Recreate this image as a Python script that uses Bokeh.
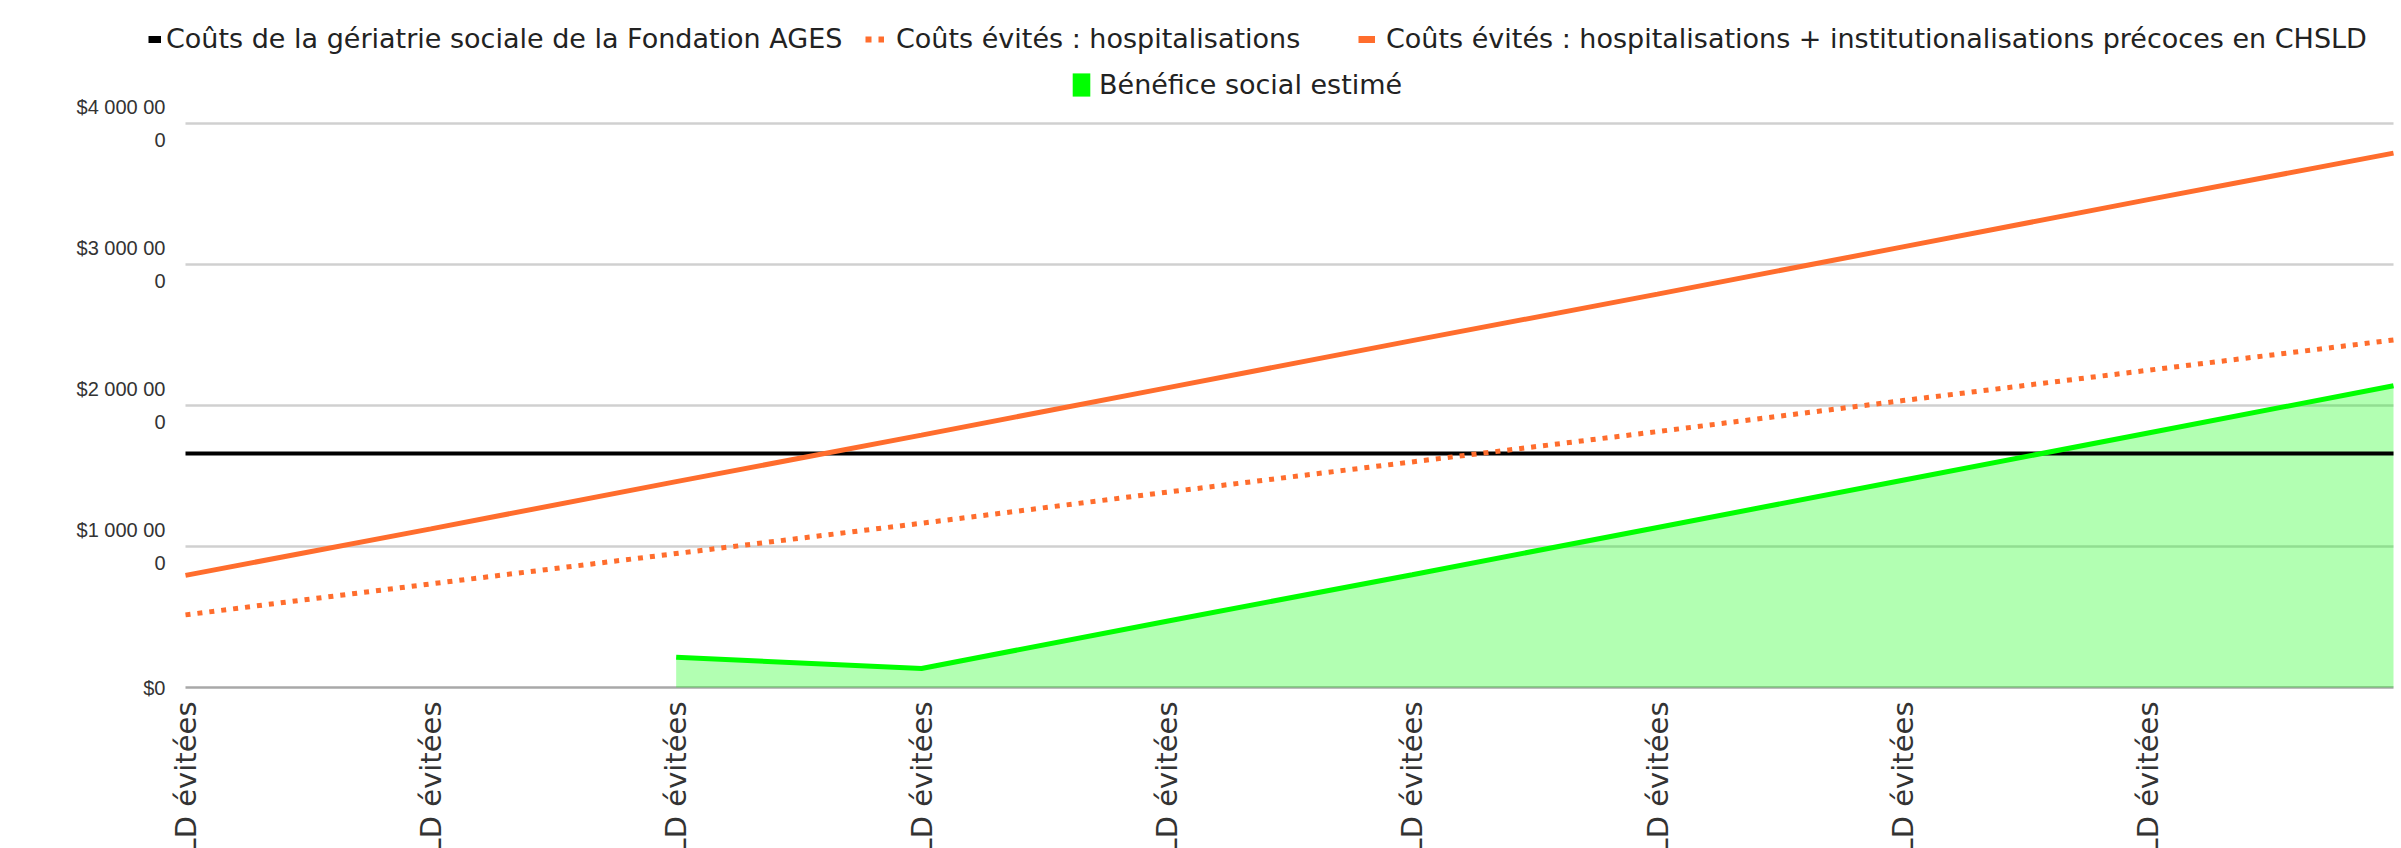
import math
from bokeh.plotting import figure
from bokeh.models import (ColumnDataSource, Range1d, FixedTicker, Legend, LegendItem,
                          LabelSet)
from bokeh.core.properties import value
from bokeh.embed import file_html
from bokeh.resources import INLINE

# ---------------- data ----------------
categories = [
    "1 hospitalisation et institutionnalisation en CHSLD évitées",
    "2 hospitalisations et institutionnalisations en CHSLD évitées",
    "3 hospitalisations et institutionnalisations en CHSLD évitées",
    "4 hospitalisations et institutionnalisations en CHSLD évitées",
    "5 hospitalisations et institutionnalisations en CHSLD évitées",
    "6 hospitalisations et institutionnalisations en CHSLD évitées",
    "7 hospitalisations et institutionnalisations en CHSLD évitées",
    "8 hospitalisations et institutionnalisations en CHSLD évitées",
    "9 hospitalisations et institutionnalisations en CHSLD évitées",
    "10 hospitalisations et institutionnalisations en CHSLD évitées",
]
couts_ages = [1660000, 1660000, 1660000, 1660000, 1660000,
              1660000, 1660000, 1660000, 1660000, 1660000]
evites_hosp = [515000, 735000, 950000, 1165000, 1385000,
               1600000, 1815000, 2035000, 2250000, 2465000]
evites_total = [795000, 1125000, 1460000, 1790000, 2125000,
                2460000, 2790000, 3125000, 3460000, 3790000]
benefice = [None, None, 215000, 135000, 470000,
            800000, 1135000, 1470000, 1805000, 2140000]
y_ticks = [0, 1000000, 2000000, 3000000, 4000000]
y_tick_labels = ["$0", "$1 000 00\n0", "$2 000 00\n0", "$3 000 00\n0", "$4 000 00\n0"]
series_names = [
    "Coûts de la gériatrie sociale de la Fondation AGES",
    "Coûts évités : hospitalisations",
    "Coûts évités : hospitalisations + institutionalisations précoces en CHSLD",
    "Bénéfice social estimé",
]

# ---------------- style / layout ----------------
FONT = "Liberation Sans"
WIDE_FONT = "DejaVu Sans"
ORANGE = "#ff6d2d"
GREEN = "#00ff00"
W, H = 2401, 848
FRAME_LEFT = 140     # frame starts here (legend swatch lies left of the data)
DATA_LEFT = 185      # pixel of the first category
DATA_RIGHT = 2393    # pixel of the last category
TOP_PX = 123         # pixel row of the top tick value
ZERO_PX = 687        # pixel row of the zero value
NAN = float("nan")

xs = list(range(len(categories)))
src = ColumnDataSource(dict(x=xs, ages=couts_ages, hosp=evites_hosp, total=evites_total))
ben_x = [x for x, b in zip(xs, benefice) if b is not None]
ben_y = [b for b in benefice if b is not None]
ben_src = ColumnDataSource(dict(x=ben_x, y=ben_y, z=[0] * len(ben_x)))

x_per_px = (xs[-1] - xs[0]) / (DATA_RIGHT - DATA_LEFT)
x_start = xs[0] - (DATA_LEFT - FRAME_LEFT) * x_per_px
x_end = xs[-1] + (W - DATA_RIGHT) * x_per_px
y_per_px = (y_ticks[-1] - y_ticks[0]) / (ZERO_PX - TOP_PX)
y_start = y_ticks[0] - (H - ZERO_PX) * y_per_px
y_end = y_ticks[-1] + TOP_PX * y_per_px

p = figure(width=W, height=H, output_backend="svg", toolbar_location=None,
           x_range=Range1d(x_start, x_end), y_range=Range1d(y_start, y_end),
           min_border_left=FRAME_LEFT, min_border_right=0, min_border_top=0,
           min_border_bottom=0)
p.outline_line_color = None
p.background_fill_color = "white"
p.border_fill_color = "white"

# axes
p.xaxis.visible = False
p.xgrid.visible = False
p.ygrid.visible = False
p.yaxis.ticker = FixedTicker(ticks=y_ticks)
p.yaxis.major_label_overrides = dict(zip(y_ticks, y_tick_labels))
p.yaxis.axis_line_color = None
p.yaxis.major_tick_line_color = None
p.yaxis.minor_tick_line_color = None
p.yaxis.major_tick_out = 0
p.yaxis.major_label_standoff = FRAME_LEFT - 165
p.yaxis.major_label_text_font = FONT
p.yaxis.major_label_text_font_size = "20px"
p.yaxis.major_label_text_color = "#333333"
p.yaxis.major_label_text_line_height = 1.5

# horizontal gridlines spanning the categories only
n_grid = len(y_ticks) - 1
p.segment(x0=[xs[0]] * n_grid, x1=[xs[-1]] * n_grid, y0=y_ticks[1:], y1=y_ticks[1:],
          line_color="#d0d0d0", line_width=2.5)
p.segment(x0=[xs[0]], x1=[xs[-1]], y0=y_ticks[:1], y1=y_ticks[:1],
          line_color="#a8a8a8", line_width=2.5)

# series
p.varea(x="x", y1="z", y2="y", source=ben_src, fill_color=GREEN, fill_alpha=0.3)
p.line("x", "ages", source=src, line_color="black", line_width=4)
p.line("x", "hosp", source=src, line_color=ORANGE, line_width=5, line_dash="5 7")
p.line("x", "total", source=src, line_color=ORANGE, line_width=5)
p.line("x", "y", source=ben_src, line_color=GREEN, line_width=5)

# legend swatches (renderers without visible data, used only for the legend look)
dummy = ColumnDataSource(dict(x=[NAN], y=[NAN], z=[NAN]))
lg_black = p.line("x", "y", source=dummy, line_color="black", line_width=7)
lg_dot = p.line("x", "y", source=dummy, line_color=ORANGE, line_width=6, line_dash="6 7")
lg_sol = p.line("x", "y", source=dummy, line_color=ORANGE, line_width=7)
lg_ben = p.varea(x="x", y1="z", y2="y", source=dummy, fill_color=GREEN)

def add_legend(label, rend, loc, gw, gh, standoff):
    leg = Legend(items=[LegendItem(label=label, renderers=[rend])], location=loc,
                 orientation="horizontal", glyph_width=gw, glyph_height=gh,
                 label_standoff=standoff, padding=0, margin=0, spacing=0,
                 border_line_color=None, background_fill_alpha=0,
                 label_text_font=WIDE_FONT, label_text_font_size="27px",
                 label_text_color="#222222", label_height=gh)
    p.add_layout(leg)

row1 = H - 38 - 16
row2 = H - 84 - 16
add_legend(series_names[0], lg_black, (148 - FRAME_LEFT, row1), 13, 24, 5)
add_legend(series_names[1], lg_dot, (865 - FRAME_LEFT, row1), 19, 24, 12)
add_legend(series_names[2], lg_sol, (1358 - FRAME_LEFT, row1), 17, 24, 11)
add_legend(series_names[3], lg_ben, (1070 - FRAME_LEFT, row2), 22, 29, 7)

# category labels (vertical, reading bottom to top, cut by the page bottom)
lab_src = ColumnDataSource(dict(x=xs[:9], text=categories[:9]))
p.add_layout(LabelSet(x="x", y=(H - ZERO_PX) - 14, y_units="screen", text="text",
                      source=lab_src, angle=math.pi / 2, text_align="right",
                      text_baseline="middle", text_font=value(WIDE_FONT),
                      text_font_size="29px", text_color="#333333"))

open("out.html", "w").write(file_html(p, INLINE))
